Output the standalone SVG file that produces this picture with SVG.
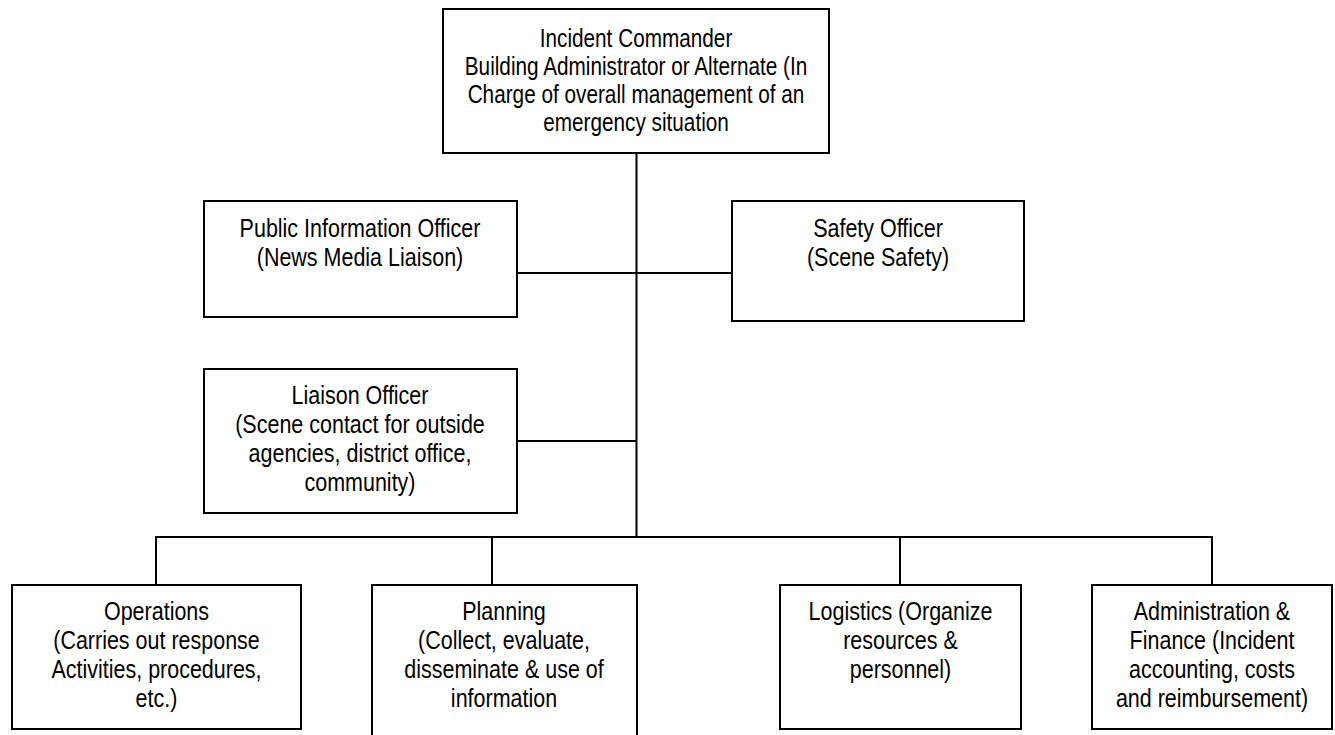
<svg xmlns="http://www.w3.org/2000/svg" width="1335" height="735" viewBox="0 0 1335 735">
<style>
.box{fill:#fff;stroke:#000;stroke-width:2}
.c{fill:none;stroke:#000;stroke-width:2}
text{font-family:"Liberation Sans",Arial,sans-serif;font-size:25px;fill:#000;text-anchor:middle}
</style>
<rect width="1335" height="735" fill="#fff"/>
<g id="connectors">
<path class="c" d="M636.5 153V537M517 273H732M517 441H636.5M156 537H1212M156 536V585M492 536V585M900 536V585M1212 536V585"/>
</g>
<g id="incident-commander">
<rect class="box" x="443" y="9" width="386" height="144"/>
<text transform="translate(636 47) scale(0.83 1)">Incident Commander</text>
<text transform="translate(636 75) scale(0.83 1)">Building Administrator or Alternate (In</text>
<text transform="translate(636 103) scale(0.83 1)">Charge of overall management of an</text>
<text transform="translate(636 131) scale(0.83 1)">emergency situation</text>
</g>
<g id="public-information-officer">
<rect class="box" x="204" y="201" width="313" height="116"/>
<text transform="translate(360 237) scale(0.86 1)">Public Information Officer</text>
<text transform="translate(360 266) scale(0.86 1)">(News Media Liaison)</text>
</g>
<g id="safety-officer">
<rect class="box" x="732" y="201" width="292" height="120"/>
<text transform="translate(878 237) scale(0.86 1)">Safety Officer</text>
<text transform="translate(878 266) scale(0.86 1)">(Scene Safety)</text>
</g>
<g id="liaison-officer">
<rect class="box" x="204" y="369" width="313" height="144"/>
<text transform="translate(360 404) scale(0.86 1)">Liaison Officer</text>
<text transform="translate(360 433) scale(0.86 1)">(Scene contact for outside</text>
<text transform="translate(360 462) scale(0.86 1)">agencies, district office,</text>
<text transform="translate(360 491) scale(0.86 1)">community)</text>
</g>
<g id="operations">
<rect class="box" x="12" y="585" width="289" height="144"/>
<text transform="translate(156.5 620) scale(0.86 1)">Operations</text>
<text transform="translate(156.5 649) scale(0.86 1)">(Carries out response</text>
<text transform="translate(156.5 678) scale(0.86 1)">Activities, procedures,</text>
<text transform="translate(156.5 707) scale(0.86 1)">etc.)</text>
</g>
<g id="planning">
<rect class="box" x="372" y="585" width="265" height="160"/>
<text transform="translate(504 620) scale(0.86 1)">Planning</text>
<text transform="translate(504 649) scale(0.86 1)">(Collect, evaluate,</text>
<text transform="translate(504 678) scale(0.86 1)">disseminate &amp; use of</text>
<text transform="translate(504 707) scale(0.86 1)">information</text>
</g>
<g id="logistics">
<rect class="box" x="780" y="585" width="241" height="144"/>
<text transform="translate(900.5 620) scale(0.86 1)">Logistics (Organize</text>
<text transform="translate(900.5 649) scale(0.86 1)">resources &amp;</text>
<text transform="translate(900.5 678) scale(0.86 1)">personnel)</text>
</g>
<g id="administration-finance">
<rect class="box" x="1092" y="585" width="240" height="144"/>
<text transform="translate(1212 620) scale(0.86 1)">Administration &amp;</text>
<text transform="translate(1212 649) scale(0.86 1)">Finance (Incident</text>
<text transform="translate(1212 678) scale(0.86 1)">accounting, costs</text>
<text transform="translate(1212 707) scale(0.86 1)">and reimbursement)</text>
</g>
</svg>
